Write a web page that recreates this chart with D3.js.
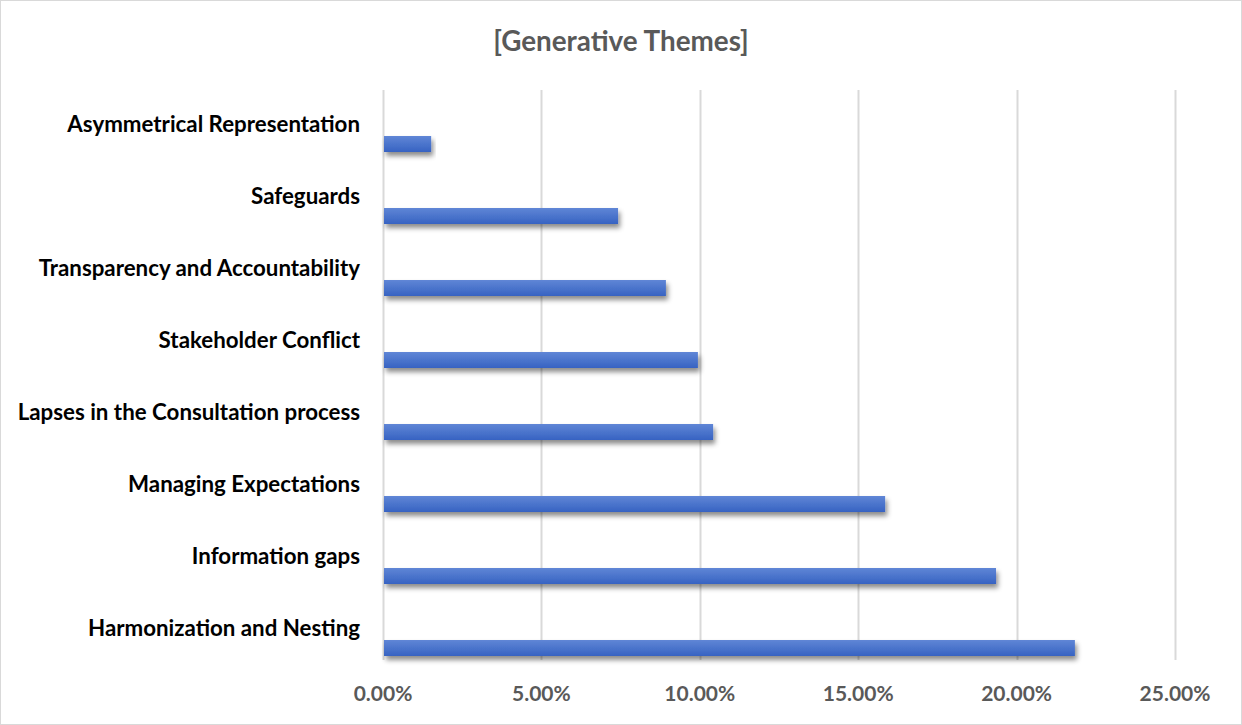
<!DOCTYPE html>
<html><head><meta charset="utf-8">
<script src="https://cdn.jsdelivr.net/npm/d3@7"></script>
<style>body{margin:0;background:#fff;} svg{display:block;}</style>
</head><body>
<svg id="chart" width="1242" height="725"></svg>
<script>
const categories = ["Asymmetrical Representation","Safeguards","Transparency and Accountability","Stakeholder Conflict","Lapses in the Consultation process","Managing Expectations","Information gaps","Harmonization and Nesting"];
const values = [0.0152, 0.0742, 0.0893, 0.0994, 0.1042, 0.1585, 0.1935, 0.2184];
const ticks = [0, 0.05, 0.10, 0.15, 0.20, 0.25];
const title = "[Generative Themes]";

const svg = d3.select("#chart");
const W = 1242, H = 725;
const font = "Lato, 'Liberation Sans', sans-serif";

svg.append("rect").attr("x",0.5).attr("y",0.5).attr("width",W-1).attr("height",H-1)
  .attr("fill","#fff").attr("stroke","#d9d9d9");

const defs = svg.append("defs");
const grad = defs.append("linearGradient").attr("id","barGrad").attr("x1",0).attr("y1",0).attr("x2",0).attr("y2",1);
grad.append("stop").attr("offset","0%").attr("stop-color","#5f86d6");
grad.append("stop").attr("offset","100%").attr("stop-color","#3763c2");
const f = defs.append("filter").attr("id","shadow").attr("x","-5%").attr("y","-50%").attr("width","115%").attr("height","250%");
f.append("feDropShadow").attr("dx",2).attr("dy",4).attr("stdDeviation",2.5).attr("flood-color","#000").attr("flood-opacity",0.45);

const x = d3.scaleLinear().domain([0,0.25]).range([383,1175]);
const y = d3.scaleBand().domain(categories).range([90,666]);

// gridlines
svg.append("g").selectAll("line").data(ticks).join("line")
  .attr("x1",d=>Math.round(x(d))+0.5).attr("x2",d=>Math.round(x(d))+0.5)
  .attr("y1",90).attr("y2",660)
  .attr("stroke","#d9d9d9").attr("stroke-width",2);

// axis labels
svg.append("g").selectAll("text").data(ticks).join("text")
  .attr("x",d=>x(d)).attr("y",701)
  .attr("text-anchor","middle")
  .attr("font-family",font).attr("font-weight","bold").attr("font-size",21)
  .attr("fill","#595959")
  .text(d=>d3.format(".2%")(d));

// bars
const barH = 16;
svg.append("g").selectAll("rect").data(categories).join("rect")
  .attr("x",x(0)+1)
  .attr("y",d=>y(d)+46)
  .attr("width",(d,i)=>x(values[i])-x(0)-1)
  .attr("height",barH)
  .attr("fill","url(#barGrad)")
  .attr("filter","url(#shadow)");

// category labels
svg.append("g").selectAll("text").data(categories).join("text")
  .attr("x",360).attr("y",d=>y(d)+42)
  .attr("text-anchor","end")
  .attr("font-family",font).attr("font-weight","bold").attr("font-size",22.3)
  .attr("fill","#000")
  .text(d=>d);

svg.append("text").attr("x",621).attr("y",51).attr("text-anchor","middle")
  .attr("font-family",font).attr("font-weight","bold").attr("font-size",27.8)
  .attr("fill","#595959").text(title);
</script>
</body></html>
